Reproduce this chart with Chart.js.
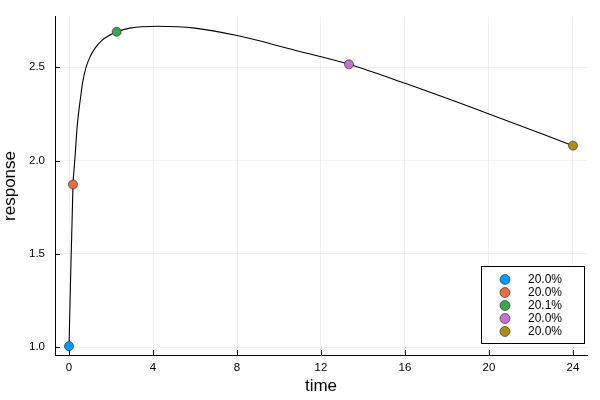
<!DOCTYPE html>
<html>
<head>
<meta charset="utf-8">
<script src="https://cdn.jsdelivr.net/npm/chart.js@4/dist/chart.umd.min.js"></script>
<style>
  html, body { margin: 0; padding: 0; background: #fff; }
  #wrap { width: 600px; height: 400px; }
</style>
</head>
<body>
<div id="wrap"><canvas id="chart" width="600" height="400"></canvas></div>
<script>
// fitted curve
const curveTime = [0, 0.19, 0.24, 0.30, 0.38, 0.45, 0.54, 0.65, 0.81, 1.02, 1.25, 1.57, 1.89, 2.27, 2.9, 4.2, 6, 8, 10.8, 13.33, 16, 20, 24];
const curveResponse = [1.0, 1.872, 1.95, 2.04, 2.17, 2.25, 2.33, 2.419, 2.5, 2.56, 2.604, 2.644, 2.669, 2.69, 2.71, 2.72, 2.71, 2.67, 2.59, 2.516, 2.414, 2.25, 2.08];

// observed points
const markerTime = [0, 0.19, 2.27, 13.33, 24];
const markerResponse = [1.005, 1.872, 2.69, 2.516, 2.08];
const legendLabels = ['20.0%', '20.0%', '20.1%', '20.0%', '20.0%'];

// ticks
const xTicks = [0, 4, 8, 12, 16, 20, 24];
const yTicks = [1.0, 1.5, 2.0, 2.5];

const palette = ['#009AFA', '#E36F47', '#3EA44E', '#C371D2', '#AC8E18'];
const FONT = '"Liberation Sans", Arial, sans-serif';

const datasets = [];
markerTime.forEach((t, i) => {
  datasets.push({
    label: legendLabels[i],
    data: [{ x: t, y: markerResponse[i] }],
    backgroundColor: palette[i],
    borderColor: '#222',
    borderWidth: 0.6,
    pointRadius: 4.5,
    showLine: false,
    order: 0
  });
});
datasets.push({
  label: 'curve',
  data: curveTime.map((t, i) => ({ x: t, y: curveResponse[i] })),
  borderColor: '#000',
  borderWidth: 1.1,
  pointRadius: 0,
  showLine: true,
  cubicInterpolationMode: 'monotone',
  fill: false,
  order: 1
});

// ticks pointing into the plot, like the original
const innerTicks = {
  id: 'innerTicks',
  afterDraw(chart) {
    const { ctx, chartArea: a, scales } = chart;
    ctx.save();
    ctx.strokeStyle = '#000';
    ctx.lineWidth = 1;
    ctx.beginPath();
    xTicks.forEach(v => {
      const px = Math.round(scales.x.getPixelForValue(v)) + 0.5;
      ctx.moveTo(px, a.bottom); ctx.lineTo(px, a.bottom - 5);
    });
    yTicks.forEach(v => {
      const py = Math.round(scales.y.getPixelForValue(v)) + 0.5;
      ctx.moveTo(a.left, py); ctx.lineTo(a.left + 5, py);
    });
    ctx.stroke();
    ctx.restore();
  }
};

// legend box in the lower right corner of the plot
const boxLegend = {
  id: 'boxLegend',
  afterDraw(chart) {
    const { ctx, chartArea: a } = chart;
    const w = 103, h = 77;
    const x0 = a.right - 3 - w, y0 = a.bottom - 12 - h;
    ctx.save();
    ctx.fillStyle = '#fff';
    ctx.fillRect(x0, y0, w, h);
    ctx.strokeStyle = '#000';
    ctx.lineWidth = 1;
    ctx.strokeRect(Math.round(x0) + 0.5, Math.round(y0) + 0.5, w, h);
    ctx.font = '12px ' + FONT;
    ctx.textBaseline = 'middle';
    ctx.textAlign = 'left';
    legendLabels.forEach((lab, i) => {
      const cy = y0 + 13.5 + i * 13;
      ctx.beginPath();
      ctx.arc(x0 + 24, cy, 5, 0, Math.PI * 2);
      ctx.fillStyle = palette[i];
      ctx.fill();
      ctx.strokeStyle = '#222';
      ctx.lineWidth = 0.6;
      ctx.stroke();
      ctx.fillStyle = '#000';
      ctx.fillText(lab, x0 + 47, cy + 0.5);
    });
    ctx.restore();
  }
};

new Chart(document.getElementById('chart'), {
  type: 'scatter',
  data: { datasets },
  plugins: [innerTicks, boxLegend],
  options: {
    responsive: false,
    animation: false,
    layout: { padding: { top: 12, right: 13, left: 0, bottom: 0 } },
    plugins: {
      legend: { display: false },
      tooltip: { enabled: false }
    },
    scales: {
      x: {
        type: 'linear',
        min: -0.667,
        max: 24.667,
        afterBuildTicks: axis => { axis.ticks = xTicks.map(v => ({ value: v })); },
        afterFit: scale => { scale.height = 45; },
        grid: { color: 'rgba(0,0,0,0.06)', drawTicks: false },
        border: { color: '#000', width: 1 },
        ticks: { color: '#000', padding: 6, font: { family: FONT, size: 11.5 } },
        title: { display: true, text: 'time', color: '#000', padding: { top: 0, bottom: 3 }, font: { family: FONT, size: 17 } }
      },
      y: {
        type: 'linear',
        min: 0.958,
        max: 2.77,
        afterBuildTicks: axis => { axis.ticks = yTicks.map(v => ({ value: v })); },
        afterFit: scale => { scale.width = 55; },
        grid: { color: 'rgba(0,0,0,0.06)', drawTicks: false },
        border: { color: '#000', width: 1 },
        ticks: { color: '#000', padding: 10, font: { family: FONT, size: 11.5 }, callback: v => v.toFixed(1) },
        title: { display: true, text: 'response', color: '#000', padding: { top: 0, bottom: 0 }, font: { family: FONT, size: 17 } }
      }
    }
  }
});
</script>
</body>
</html>
